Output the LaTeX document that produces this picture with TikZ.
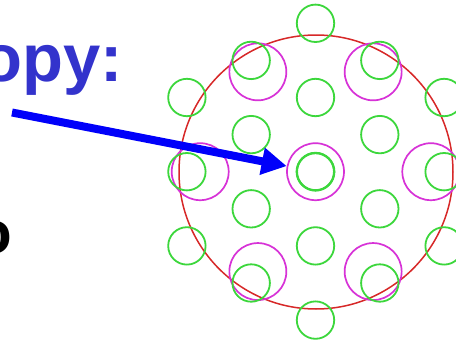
\documentclass[tikz,border=0pt]{standalone}
\usepackage{fontspec}
\setmainfont{Liberation Sans}
\usetikzlibrary{arrows.meta}
\definecolor{gr}{RGB}{60,215,60}
\definecolor{mg}{RGB}{215,50,215}
\definecolor{rd}{RGB}{215,40,40}
\definecolor{bl}{RGB}{0,0,250}
\definecolor{tb}{RGB}{51,51,204}
\tikzset{
  grc/.style={circle,draw=gr,line width=1.8pt,minimum size=37.4pt,inner sep=0pt},
  mgc/.style={circle,draw=mg,line width=1.7pt,minimum size=57pt,inner sep=0pt},
  redc/.style={circle,draw=rd,line width=1.5pt,minimum size=274pt,inner sep=0pt},
  bigarrow/.style={draw=bl,line width=8pt,-{Triangle[length=25pt,width=26pt]}},
  lbl/.style={inner sep=0pt,font=\fontsize{67}{67}\selectfont\bfseries}
}
\begin{document}
\begin{tikzpicture}[x=1pt,y=-1pt]
\useasboundingbox (0,0) rectangle (456,343);
\clip (0,0) rectangle (456,343);
\fill[white] (0,0) rectangle (456,343);
\def\cx{315.5}\def\cy{171.7}
\node[redc] (red) at (316,172) {};
% magenta ring
\foreach \a in {0,60,...,300}{
  \node[mgc] (m\a) at ({\cx+115.3*cos(\a)},{\cy+115.3*sin(\a)}) {};
}
\node[mgc] (mc) at (\cx,\cy) {};
% green lattice
\foreach \i/\j in {0/-4,0/-2,0/0,0/2,0/4,
                   -1/-3,-1/-1,-1/1,-1/3,1/-3,1/-1,1/1,1/3,
                   -2/-2,-2/0,-2/2,2/-2,2/0,2/2}{
  \node[grc] (g\i\j) at ({\cx+64.3*\i},{\cy+37.1*\j}) {};
}
\node[grc,line width=2.3pt] (gc2) at (\cx,\cy) {};
\coordinate (as) at (12,112.5);
\draw[bigarrow] (as) -- (mc);
\node[lbl,text=tb,anchor=base east] (t1) at (123,81.7) {opy:};
\node[lbl,text=black,anchor=base east,font=\fontsize{60}{60}\selectfont\bfseries] (t2) at (12.5,253) {o};
\end{tikzpicture}
\end{document}
